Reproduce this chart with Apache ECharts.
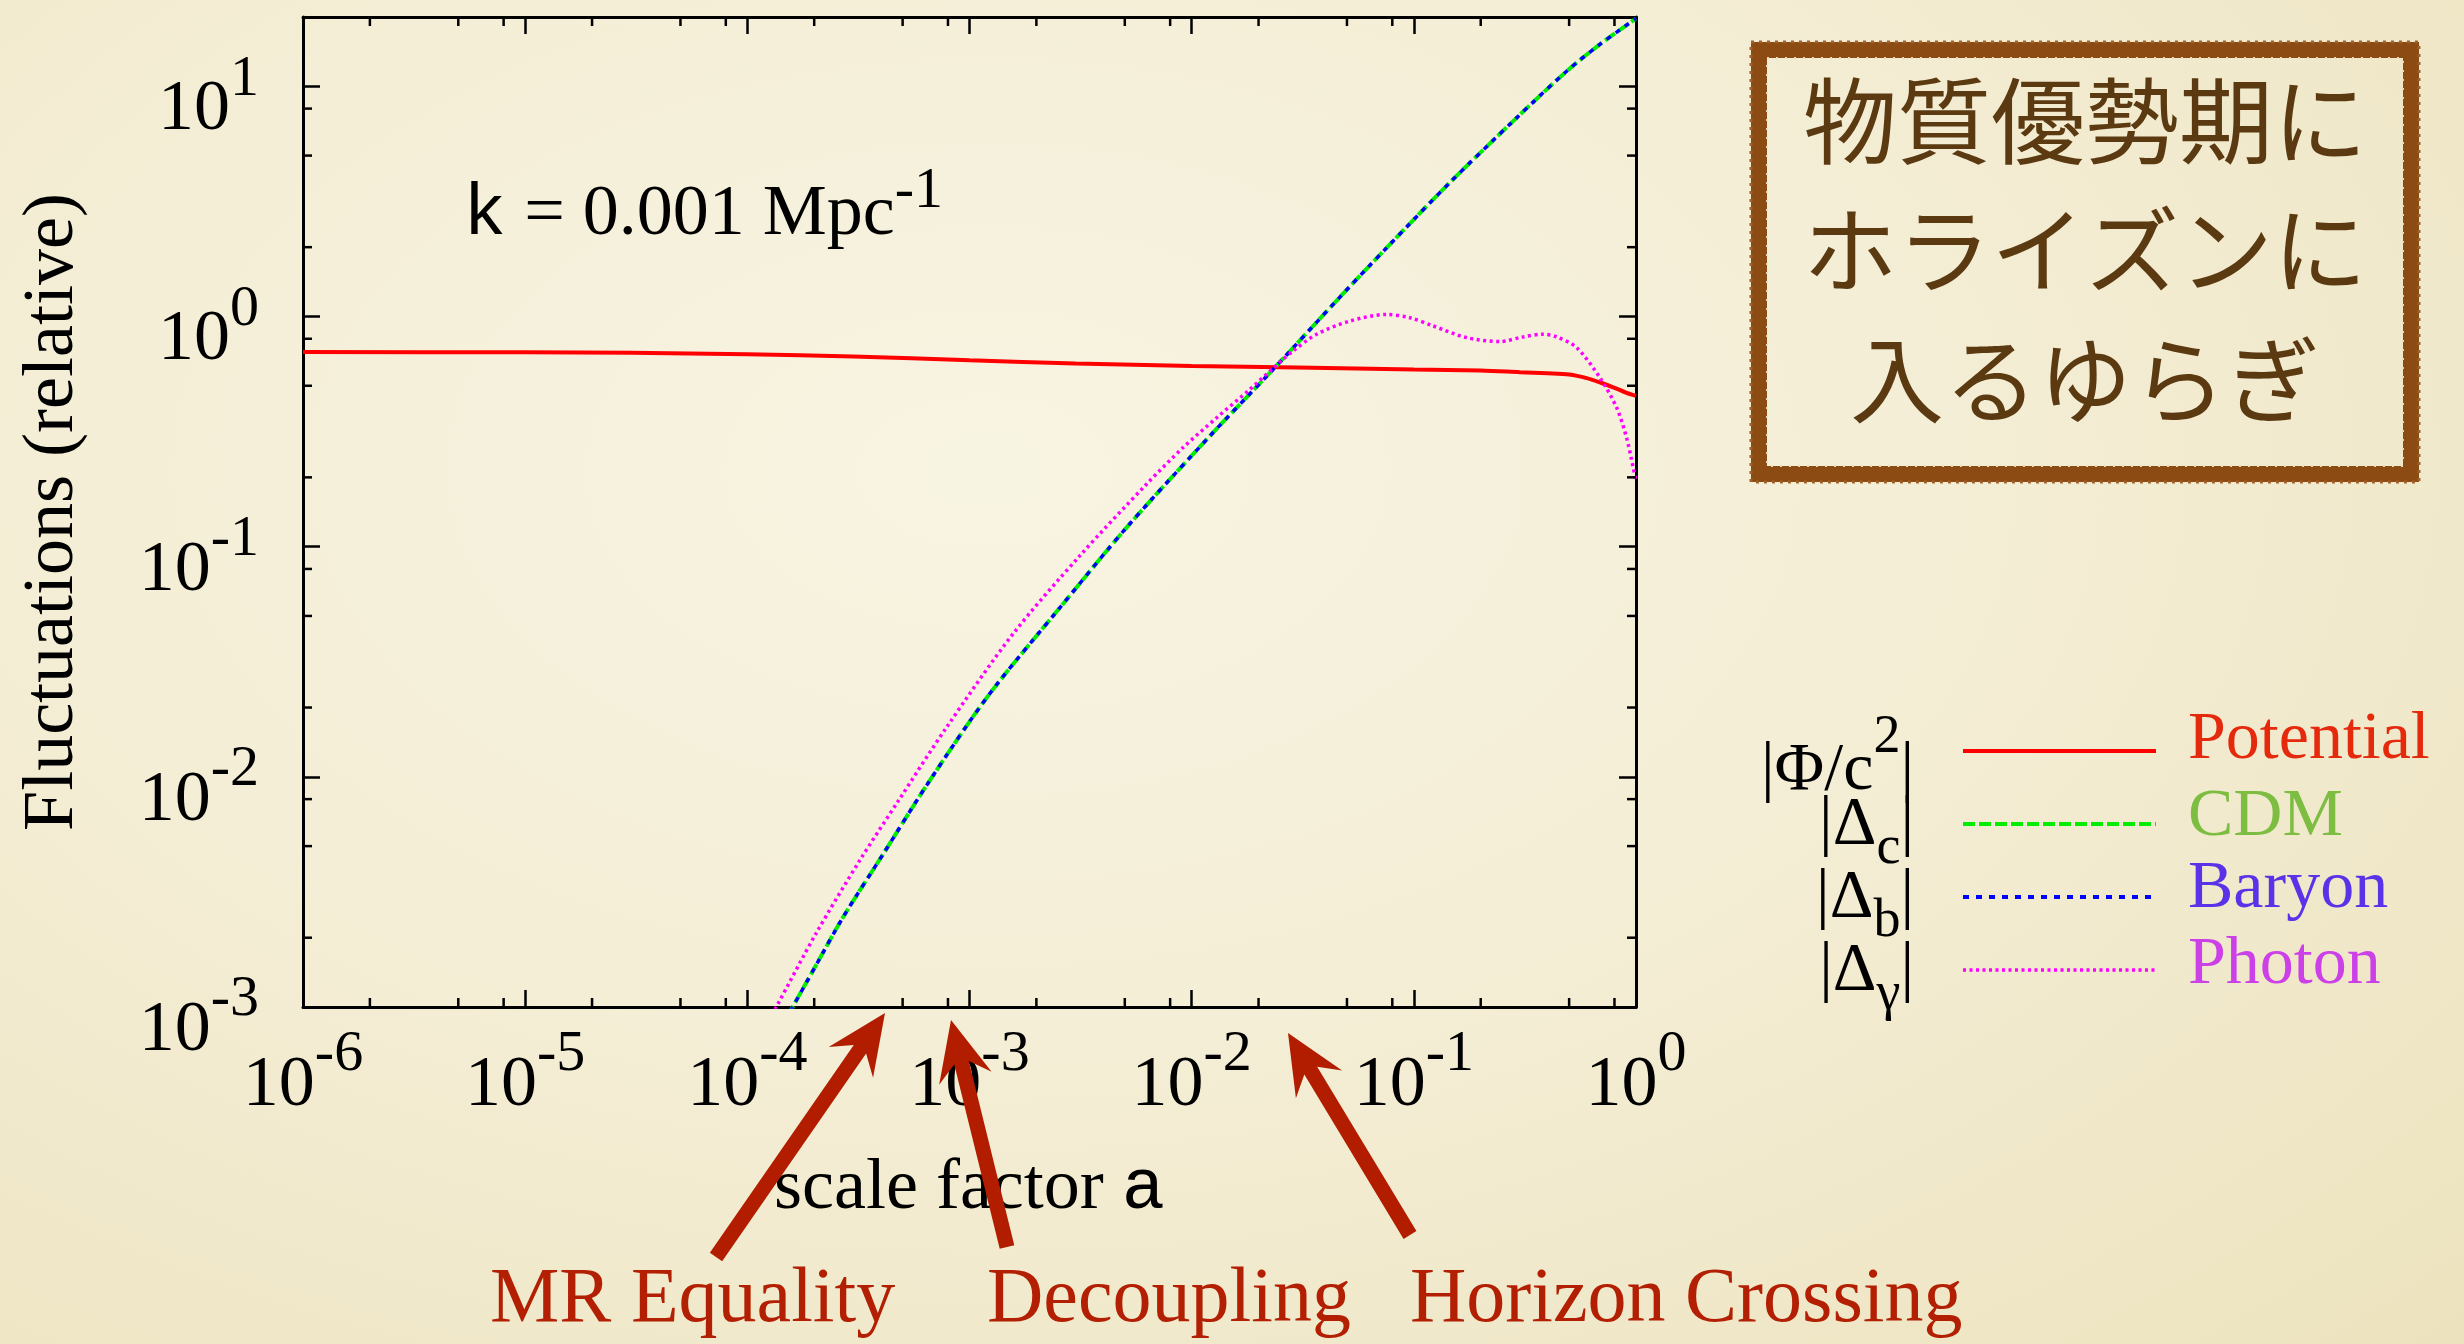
<!DOCTYPE html>
<html><head><meta charset="utf-8">
<script src="https://cdn.jsdelivr.net/npm/echarts@6/dist/echarts.min.js"></script>
<style>
html,body{margin:0;padding:0;width:2464px;height:1344px;overflow:hidden;}
body{background:radial-gradient(ellipse 85% 95% at 40% 35%, #f8f4e2 0%, #f4eed6 45%, #ece2bd 100%);}
#chart{width:2464px;height:1344px;}
</style></head><body><div id="chart"></div>
<script>
// ---- data (scale factor a, relative fluctuation) ----
const potentialA = [1e-6, 1e-5, 3e-5, 1e-4, 3e-4, 1e-3, 3e-3, 1e-2, 3e-2, 0.1, 0.2, 0.3, 0.4, 0.5, 0.6, 0.7, 0.8, 0.9, 1.0];
const potentialVal = [0.70, 0.699, 0.695, 0.685, 0.67, 0.645, 0.625, 0.61, 0.60, 0.588, 0.582, 0.573, 0.567, 0.56, 0.54, 0.514, 0.49, 0.467, 0.452];

const cdmA = [1.4e-4, 1.6e-4, 2.0e-4, 2.7e-4, 4.1e-4, 6.2e-4, 1.01e-3, 1.37e-3, 2.56e-3, 5.09e-3, 1.21e-2, 2.33e-2, 4.56e-2, 7.29e-2, 0.145, 0.29, 0.486, 0.687, 1.0];
const cdmVal = [7.9e-4, 1.0e-3, 1.47e-3, 2.46e-3, 4.64e-3, 8.74e-3, 1.76e-2, 2.62e-2, 5.45e-2, 0.121, 0.303, 0.59, 1.19, 1.92, 3.81, 7.29, 11.6, 15.2, 19.7];

const baryonA = [1.4e-4, 1.6e-4, 2.0e-4, 2.7e-4, 4.1e-4, 6.2e-4, 1.01e-3, 1.37e-3, 2.56e-3, 5.09e-3, 1.21e-2, 2.33e-2, 4.56e-2, 7.29e-2, 0.145, 0.29, 0.486, 0.687, 1.0];
const baryonVal = [7.9e-4, 1.0e-3, 1.47e-3, 2.46e-3, 4.64e-3, 8.74e-3, 1.76e-2, 2.62e-2, 5.45e-2, 0.121, 0.303, 0.59, 1.19, 1.92, 3.81, 7.29, 11.6, 15.2, 19.7];

const photonA = [1.25e-4, 1.35e-4, 2.04e-4, 3.21e-4, 4.8e-4, 7.88e-4, 1.57e-3, 3.14e-3, 6.27e-3, 9.17e-3, 1.3e-2, 1.83e-2, 2.53e-2, 2.86e-2, 3.65e-2, 5.15e-2, 7.5e-2, 9.6e-2, 0.122, 0.173, 0.244, 0.31, 0.381, 0.439, 0.54, 0.687, 0.818, 0.906, 0.971, 1.0];
const photonVal = [8.7e-4, 1.0e-3, 2.09e-3, 4.34e-3, 7.9e-3, 1.64e-2, 4.18e-2, 9.14e-2, 0.187, 0.27, 0.364, 0.483, 0.641, 0.708, 0.837, 0.955, 1.02, 0.988, 0.91, 0.809, 0.778, 0.815, 0.837, 0.815, 0.733, 0.543, 0.402, 0.298, 0.221, 0.193];

const xRange = [1e-6, 1];
const yRange = [1e-3, 20];
const xMinorTicks = [2e-6,5e-6,8e-6, 2e-5,5e-5,8e-5, 2e-4,5e-4,8e-4, 2e-3,5e-3,8e-3, 2e-2,5e-2,8e-2, 0.2,0.5,0.8];
const yMinorTicks = [2e-3,5e-3,8e-3, 2e-2,5e-2,8e-2, 0.2,0.5,0.8, 2,5,8];

const legendNames = ['Potential', 'CDM', 'Baryon', 'Photon'];
const titleLines = ['物質優勢期に', 'ホライズンに', '入るゆらぎ'];
const eventLabels = ['MR Equality', 'Decoupling', 'Horizon Crossing'];

// ---- styling ----
const SERIF = 'Liberation Serif, Times New Roman, serif';
const MONO = 'Liberation Mono, DejaVu Sans Mono, monospace';
const C = { pot: '#ff0000', cdm: '#00ee00', bar: '#0000ff', pho: '#ff00ff' };
const TXT = { pot: '#e5290c', cdm: '#7cbd42', bar: '#5a33e8', pho: '#cc40e8' };
const ARROW = '#b21d00';

const pairs = (xs, ys) => xs.map((x, i) => [x, ys[i]]);

function powLabel(v) {
  const e = Math.round(Math.log10(v));
  if (Math.abs(v / Math.pow(10, e) - 1) > 1e-6) return '';
  return '{m|10}{s|' + e + '}';
}
const labelRich = {
  m: { fontFamily: SERIF, fontSize: 72, lineHeight: 72, color: '#000', verticalAlign: 'top', padding: [24, 0, 0, 0] },
  s: { fontFamily: SERIF, fontSize: 58, lineHeight: 58, color: '#000', verticalAlign: 'top' }
};

function arrowPoints(tail, tip) {
  const headLen = 60, headHalf = 27, notch = 44, shaftHalf = 7.5;
  const dx = tip[0] - tail[0], dy = tip[1] - tail[1];
  const L = Math.hypot(dx, dy), ux = dx / L, uy = dy / L, nx = -uy, ny = ux;
  const P = (a, p) => [tip[0] - ux * a + nx * p, tip[1] - uy * a + ny * p];
  return [tip, P(headLen, headHalf), P(notch, shaftHalf),
    [tail[0] + nx * shaftHalf, tail[1] + ny * shaftHalf],
    [tail[0] - nx * shaftHalf, tail[1] - ny * shaftHalf],
    P(notch, -shaftHalf), P(headLen, -headHalf)];
}

function minorX(params, api) {
  const v = api.value(0);
  const b = api.coord([v, yRange[0]]);
  const t = api.coord([v, yRange[1]]);
  const st = { stroke: '#000', lineWidth: 2.5 };
  return { type: 'group', children: [
    { type: 'line', shape: { x1: b[0], y1: b[1], x2: b[0], y2: b[1] - 9 }, style: st },
    { type: 'line', shape: { x1: t[0], y1: t[1], x2: t[0], y2: t[1] + 9 }, style: st }
  ]};
}
function minorY(params, api) {
  const v = api.value(1);
  const l = api.coord([xRange[0], v]);
  const r = api.coord([xRange[1], v]);
  const st = { stroke: '#000', lineWidth: 2.5 };
  return { type: 'group', children: [
    { type: 'line', shape: { x1: l[0], y1: l[1], x2: l[0] + 9, y2: l[1] }, style: st },
    { type: 'line', shape: { x1: r[0], y1: r[1], x2: r[0] - 9, y2: r[1] }, style: st }
  ]};
}

const axisCommon = {
  axisLine: { show: true, lineStyle: { color: '#000', width: 3 } },
  axisTick: { show: true, inside: true, length: 17, lineStyle: { color: '#000', width: 2.5 } },
  splitLine: { show: false }
};

// legend graphics
const legendRows = [
  { y: 751, label: '{p||Φ/c}{s|2}{p||}', name: legendNames[0], color: TXT.pot, line: C.pot, dash: 'solid', w: 4 },
  { y: 824, label: '{m||Δ}{b|c}{m||}', name: legendNames[1], color: TXT.cdm, line: C.cdm, dash: [12, 4], w: 4 },
  { y: 897, label: '{m||Δ}{b|b}{m||}', name: legendNames[2], color: TXT.bar, line: C.bar, dash: [6, 7], w: 4 },
  { y: 970, label: '{m||Δ}{b|γ}{m||}', name: legendNames[3], color: TXT.pho, line: C.pho, dash: [3, 3.5], w: 3.5 }
];
const legendRich = {
  p: { fontFamily: SERIF, fontSize: 68, lineHeight: 68, color: '#000', verticalAlign: 'top', padding: [26, 0, 0, 0] },
  s: { fontFamily: SERIF, fontSize: 54, lineHeight: 54, color: '#000', verticalAlign: 'top' },
  m: { fontFamily: SERIF, fontSize: 68, lineHeight: 68, color: '#000', verticalAlign: 'top' },
  b: { fontFamily: SERIF, fontSize: 54, lineHeight: 54, color: '#000', verticalAlign: 'top', padding: [31, 0, 0, 0] }
};
const graphics = [];
legendRows.forEach((r, i) => {
  graphics.push({ type: 'text', z: 50, style: { x: 1914, y: i === 0 ? r.y - 6 : r.y + 1, text: r.label, rich: legendRich, align: 'right', verticalAlign: 'middle' } });
  graphics.push({ type: 'line', z: 50, shape: { x1: 1963, y1: r.y, x2: 2156, y2: r.y }, style: { stroke: r.line, lineWidth: r.w, lineDash: r.dash === 'solid' ? null : r.dash } });
  graphics.push({ type: 'text', z: 50, style: { x: 2188, y: [740, 817, 889, 965][i], text: r.name, fill: r.color, font: '68px ' + SERIF, align: 'left', verticalAlign: 'middle' } });
});

// Japanese title box
graphics.push({ type: 'rect', z: 40, shape: { x: 1759, y: 50, width: 652, height: 424 }, style: { fill: null, stroke: '#8c4b12', lineWidth: 16 } });
graphics.push({ type: 'rect', z: 41, shape: { x: 1751, y: 42, width: 668, height: 440 }, style: { fill: null, stroke: '#a0602a', lineWidth: 3, lineDash: [3, 5] } });
graphics.push({ type: 'rect', z: 41, shape: { x: 1767, y: 58, width: 636, height: 408 }, style: { fill: null, stroke: '#e9dcb8', lineWidth: 2, lineDash: [2, 7] } });
titleLines.forEach((t, i) => {
  graphics.push({ type: 'text', z: 42, style: { x: 2085, y: [121, 250, 380][i], text: t, fill: '#5b3a12', font: '94px "Noto Sans CJK JP"', align: 'center', verticalAlign: 'middle' } });
});

// k label
graphics.push({ type: 'text', z: 30, style: { x: 463, y: 163, align: 'left', verticalAlign: 'top',
  text: '{k|k}{t| = 0.001 Mpc}{s|-1}',
  rich: {
    k: { fontFamily: MONO, fontSize: 72, lineHeight: 72, color: '#000', verticalAlign: 'top', padding: [16, 0, 0, 0] },
    t: { fontFamily: SERIF, fontSize: 72, lineHeight: 72, color: '#000', verticalAlign: 'top', padding: [16, 0, 0, 0] },
    s: { fontFamily: SERIF, fontSize: 58, lineHeight: 58, color: '#000', verticalAlign: 'top' }
  } } });

// annotation arrows and labels
const arrowDefs = [
  { tail: [716, 1257], tip: [885, 1013] },
  { tail: [1007, 1247], tip: [951, 1020] },
  { tail: [1410, 1235], tip: [1288, 1033] }
];
arrowDefs.forEach(a => graphics.push({ type: 'polygon', z: 100, shape: { points: arrowPoints(a.tail, a.tip) }, style: { fill: ARROW } }));
[490, 987, 1410].forEach((x, i) => graphics.push({ type: 'text', z: 100, style: { x: x, y: 1301, text: eventLabels[i], fill: '#b31f03', font: '78px ' + SERIF, align: 'left', verticalAlign: 'middle' } }));

const chart = echarts.init(document.getElementById('chart'), null, { renderer: 'canvas' });
chart.setOption({
  backgroundColor: 'transparent',
  animation: false,
  grid: { left: 303, top: 17, right: 828, bottom: 337, containLabel: false },
  xAxis: [
    Object.assign({ type: 'log', min: xRange[0], max: xRange[1], position: 'bottom',
      name: 'scale factor {a|a}', nameLocation: 'middle', nameGap: 146,
      nameTextStyle: { fontFamily: SERIF, fontSize: 72, color: '#000',
        rich: { a: { fontFamily: MONO, fontSize: 72, color: '#000' } } },
      axisLabel: { show: true, margin: 19, formatter: powLabel, rich: labelRich } }, axisCommon),
    Object.assign({ type: 'log', min: xRange[0], max: xRange[1], position: 'top', axisLabel: { show: false } }, axisCommon)
  ],
  yAxis: [
    Object.assign({ type: 'log', min: yRange[0], max: yRange[1], position: 'left',
      name: 'Fluctuations (relative)', nameLocation: 'middle', nameGap: 214,
      nameTextStyle: { fontFamily: SERIF, fontSize: 72, color: '#000' },
      axisLabel: { show: true, margin: 44, formatter: powLabel, rich: labelRich } }, axisCommon),
    Object.assign({ type: 'log', min: yRange[0], max: yRange[1], position: 'right', axisLabel: { show: false } }, axisCommon)
  ],
  series: [
    { name: legendNames[0], type: 'line', data: pairs(potentialA, potentialVal), symbol: 'none', smooth: 0.3, clip: true,
      lineStyle: { color: C.pot, width: 4 }, z: 3 },
    { name: legendNames[1], type: 'line', data: pairs(cdmA, cdmVal), symbol: 'none', smooth: 0.3, clip: true,
      lineStyle: { color: C.cdm, width: 4, type: [12, 4] }, z: 4 },
    { name: legendNames[2], type: 'line', data: pairs(baryonA, baryonVal), symbol: 'none', smooth: 0.3, clip: true,
      lineStyle: { color: C.bar, width: 3.5, type: [5, 6] }, z: 5 },
    { name: legendNames[3], type: 'line', data: pairs(photonA, photonVal), symbol: 'none', smooth: 0.3, clip: true,
      lineStyle: { color: C.pho, width: 3.5, type: [3, 3.5] }, z: 6 },
    { type: 'custom', renderItem: minorX, data: xMinorTicks.map(v => [v, yRange[0]]), encode: { x: 0, y: 1 }, z: 10, silent: true },
    { type: 'custom', renderItem: minorY, data: yMinorTicks.map(v => [xRange[0], v]), encode: { x: 0, y: 1 }, z: 10, silent: true }
  ],
  graphic: graphics
});
</script></body></html>
